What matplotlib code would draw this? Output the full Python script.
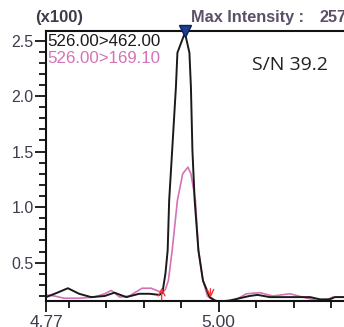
import matplotlib
matplotlib.use("Agg")
import matplotlib.pyplot as plt
from matplotlib.ticker import FixedLocator, MultipleLocator, FixedFormatter

# Data (retention time in min, intensity in x100)
t_black = [4.770, 4.785, 4.799, 4.814, 4.830, 4.848, 4.861, 4.877, 4.894, 4.908,
           4.921, 4.925, 4.929, 4.932, 4.934, 4.938, 4.943, 4.945, 4.955, 4.961,
           4.963, 4.965, 4.968, 4.973, 4.979, 4.988, 4.995, 5.001, 5.015, 5.028,
           5.041, 5.052, 5.068, 5.095, 5.122, 5.135, 5.148, 5.155, 5.167]
y_black = [0.19, 0.23, 0.27, 0.22, 0.19, 0.20, 0.23, 0.19, 0.22, 0.22,
           0.21, 0.23, 0.40, 0.61, 1.06, 1.51, 2.08, 2.39, 2.57, 2.39,
           2.08, 1.51, 1.06, 0.61, 0.34, 0.19, 0.16, 0.15, 0.16, 0.18,
           0.20, 0.21, 0.19, 0.19, 0.19, 0.17, 0.17, 0.19, 0.19]

t_pink = [4.770, 4.781, 4.794, 4.814, 4.834, 4.848, 4.857, 4.868, 4.881, 4.898,
          4.910, 4.921, 4.925, 4.929, 4.933, 4.938, 4.945, 4.952, 4.959, 4.963,
          4.969, 4.973, 4.979, 4.985, 4.993, 5.004, 5.021, 5.037, 5.055, 5.072,
          5.095, 5.118, 5.131, 5.142, 5.152, 5.167]
y_pink = [0.21, 0.20, 0.18, 0.18, 0.19, 0.22, 0.25, 0.19, 0.20, 0.27,
          0.27, 0.24, 0.23, 0.26, 0.34, 0.61, 1.06, 1.30, 1.36, 1.30,
          1.06, 0.61, 0.34, 0.20, 0.16, 0.15, 0.16, 0.22, 0.23, 0.20,
          0.22, 0.18, 0.16, 0.16, 0.19, 0.19]

series_labels = ["526.00>462.00", "526.00>169.10"]
series_colors = ["#1a1a1a", "#d372b6"]
x_major = [4.77, 5.00]
x_major_labels = ["4.77", "5.00"]
y_major = [0.5, 1.0, 1.5, 2.0, 2.5]
peak_time = 4.955
peak_start = 4.924
peak_end = 4.989
sn_text = "S/N 39.2"
max_label = "Max Intensity :"
max_value = "257"

fig = plt.figure(figsize=(3.44, 3.27), dpi=100)
ax = fig.add_axes([0.134, 0.0795, 0.866, 0.8255])

ax.plot(t_pink, y_pink, color=series_colors[1], lw=1.2)
ax.plot(t_black, y_black, color=series_colors[0], lw=1.4)

ax.set_xlim(4.77, 5.167)
ax.set_ylim(0.155, 2.585)

ax.spines["right"].set_visible(False)
for s in ["left", "bottom", "top"]:
    ax.spines[s].set_linewidth(1.5)
    ax.spines[s].set_color("#111111")

ax.xaxis.set_major_locator(FixedLocator(x_major))
ax.xaxis.set_major_formatter(FixedFormatter(x_major_labels))
ax.xaxis.set_minor_locator(MultipleLocator(0.05))
ax.yaxis.set_major_locator(FixedLocator(y_major))
ax.yaxis.set_minor_locator(MultipleLocator(0.1))

ax.tick_params(axis="both", which="major", length=8, width=1.3, color="#111111",
               labelcolor="#3c3c4c", pad=1)
ax.tick_params(axis="y", which="major", labelsize=11.5)
ax.tick_params(axis="x", which="major", labelsize=12.5, pad=2)
ax.tick_params(axis="both", which="minor", length=5, width=1.3, color="#111111")
for lab in ax.get_xticklabels() + ax.get_yticklabels():
    lab.set_family("Liberation Sans")

# peak marker
ax.plot([peak_time], [2.585], marker="v", ms=8, color="#1c3f8f",
        markeredgecolor="#0d2060", clip_on=False, zorder=5)

# integration arrows
ax.annotate("", xy=(peak_start, 0.30), xytext=(peak_start, 0.14),
            arrowprops=dict(arrowstyle="->", color="#ff3030", lw=1.0, mutation_scale=12),
            annotation_clip=False)
ax.annotate("", xy=(peak_end, 0.16), xytext=(peak_end, 0.29),
            arrowprops=dict(arrowstyle="->", color="#ff3030", lw=1.0, mutation_scale=12),
            annotation_clip=False)

# legend text
ax.text(0.005, 0.99, series_labels[0], transform=ax.transAxes, color=series_colors[0],
        fontsize=12.2, family="Liberation Sans", va="top", ha="left")
ax.text(0.005, 0.925, series_labels[1], transform=ax.transAxes, color=series_colors[1],
        fontsize=12.2, family="Liberation Sans", va="top", ha="left")

ax.text(0.69, 0.875, sn_text, transform=ax.transAxes, color="#222222",
        fontsize=14, family="Open Sans", va="center", ha="left")

fig.text(0.102, 0.945, "(x100)", color="#3c3c4c", fontsize=12,
         family="Liberation Sans", va="center", ha="left", fontweight="bold")
fig.text(0.555, 0.945, max_label, color="#5a5068", fontsize=11.7,
         family="Liberation Sans", va="center", ha="left", fontweight="bold")
fig.text(0.93, 0.945, max_value, color="#5a5068", fontsize=11.7,
         family="Liberation Sans", va="center", ha="left", fontweight="bold")

fig.savefig("out.png", dpi=100)
